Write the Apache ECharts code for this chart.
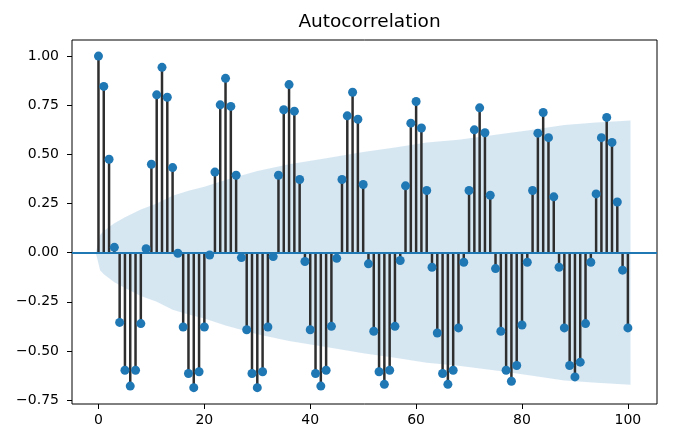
<!DOCTYPE html>
<html>
<head>
<meta charset="utf-8">
<script src="https://cdn.jsdelivr.net/npm/echarts@6/dist/echarts.min.js"></script>
<style>html,body{margin:0;padding:0;background:#fff;}#c{width:692px;height:448px;}</style>
</head>
<body>
<div id="c"></div>
<script>
// ACF values for lags 0..100 (index = lag)
const acf = [
  1.0, 0.846, 0.475, 0.027, -0.355, -0.598, -0.679, -0.598, -0.361, 0.02,
  0.45, 0.803, 0.943, 0.791, 0.433, -0.003, -0.378, -0.615, -0.687, -0.606,
  -0.378, -0.012, 0.41, 0.752, 0.887, 0.744, 0.394, -0.025, -0.392, -0.615,
  -0.687, -0.606, -0.378, -0.02, 0.394, 0.727, 0.855, 0.72, 0.372, -0.045,
  -0.392, -0.615, -0.679, -0.598, -0.375, -0.029, 0.372, 0.696, 0.816, 0.679,
  0.347, -0.057, -0.4, -0.606, -0.67, -0.598, -0.375, -0.04, 0.34, 0.659,
  0.769, 0.634, 0.316, -0.074, -0.409, -0.615, -0.67, -0.598, -0.383, -0.049,
  0.316, 0.625, 0.737, 0.61, 0.292, -0.081, -0.4, -0.598, -0.654, -0.574,
  -0.368, -0.049, 0.316, 0.608, 0.713, 0.585, 0.284, -0.074, -0.383, -0.574,
  -0.632, -0.557, -0.361, -0.049, 0.299, 0.585, 0.688, 0.561, 0.258, -0.089,
  -0.383
];
// Confidence band
const bandLags  = [-0.5, 0.3, 1, 2, 3, 5, 8, 11, 14, 17, 20, 24, 30, 36, 43, 50, 56, 62, 68, 75, 81, 88, 94, 100.5];
const bandUpper = [0.0, 0.09, 0.11, 0.13, 0.15, 0.18, 0.22, 0.25, 0.29, 0.315, 0.335, 0.37, 0.415, 0.45, 0.48, 0.512, 0.535, 0.56, 0.575, 0.6, 0.622, 0.65, 0.662, 0.672];
const bandLower = [0.0, -0.09, -0.11, -0.13, -0.15, -0.18, -0.22, -0.25, -0.29, -0.315, -0.335, -0.37, -0.415, -0.45, -0.48, -0.512, -0.535, -0.56, -0.575, -0.6, -0.622, -0.65, -0.662, -0.672];
const xTicks = [0, 20, 40, 60, 80, 100];
const yTicks = [-0.75, -0.5, -0.25, 0, 0.25, 0.5, 0.75, 1.0];
const titleText = 'Autocorrelation';

const pts = acf.map((v, i) => [i, v]);
const font = 'DejaVu Sans';
const chart = echarts.init(document.getElementById('c'), null, {renderer: 'canvas'});
chart.setOption({
  animation: false,
  backgroundColor: '#fff',
  title: {
    text: titleText, left: 364.5, textAlign: 'center', top: 8,
    textStyle: {fontFamily: font, fontSize: 18.5, fontWeight: 'normal', color: '#000'}
  },
  grid: {left: 72, right: 35, top: 40, bottom: 44, show: true, borderColor: '#000', borderWidth: 1, backgroundColor: 'transparent'},
  xAxis: {
    type: 'value', min: -5.0, max: 105.5,
    axisLine: {show: false, onZero: false}, splitLine: {show: false},
    axisTick: {show: true, length: 5, customValues: xTicks, lineStyle: {color: '#000'}},
    axisLabel: {customValues: xTicks, fontFamily: font, fontSize: 14, color: '#000', margin: 9}
  },
  yAxis: {
    type: 'value', min: -0.77, max: 1.082,
    axisLine: {show: false, onZero: false}, splitLine: {show: false},
    axisTick: {show: true, length: 5, customValues: yTicks, lineStyle: {color: '#000'}},
    axisLabel: {customValues: yTicks, fontFamily: font, fontSize: 14, color: '#000', margin: 13,
      formatter: v => (v < 0 ? '\u2212' : '') + Math.abs(v).toFixed(2)}
  },
  series: [
    {type: 'line', data: bandLags.map((x, i) => [x, bandUpper[i]]), symbol: 'none', silent: true, z: 1,
     lineStyle: {width: 0, opacity: 0}, areaStyle: {color: 'rgba(31,119,180,0.25)', origin: 'auto'}},
    {type: 'line', data: bandLags.map((x, i) => [x, bandLower[i]]), symbol: 'none', silent: true, z: 1,
     lineStyle: {width: 0, opacity: 0}, areaStyle: {color: 'rgba(31,119,180,0.25)', origin: 'auto'}},
    {type: 'bar', data: pts, barWidth: 2.5, silent: true, z: 2, itemStyle: {color: '#2e2e2e'},
     markLine: {silent: true, symbol: ['none', 'none'], label: {show: false},
       lineStyle: {color: '#1f77b4', width: 2, type: 'solid'}, data: [{yAxis: 0}]}},
    {type: 'scatter', data: pts, symbolSize: 9, silent: true, z: 4, itemStyle: {color: '#1f77b4', opacity: 1}}
  ]
});
</script>
</body>
</html>
